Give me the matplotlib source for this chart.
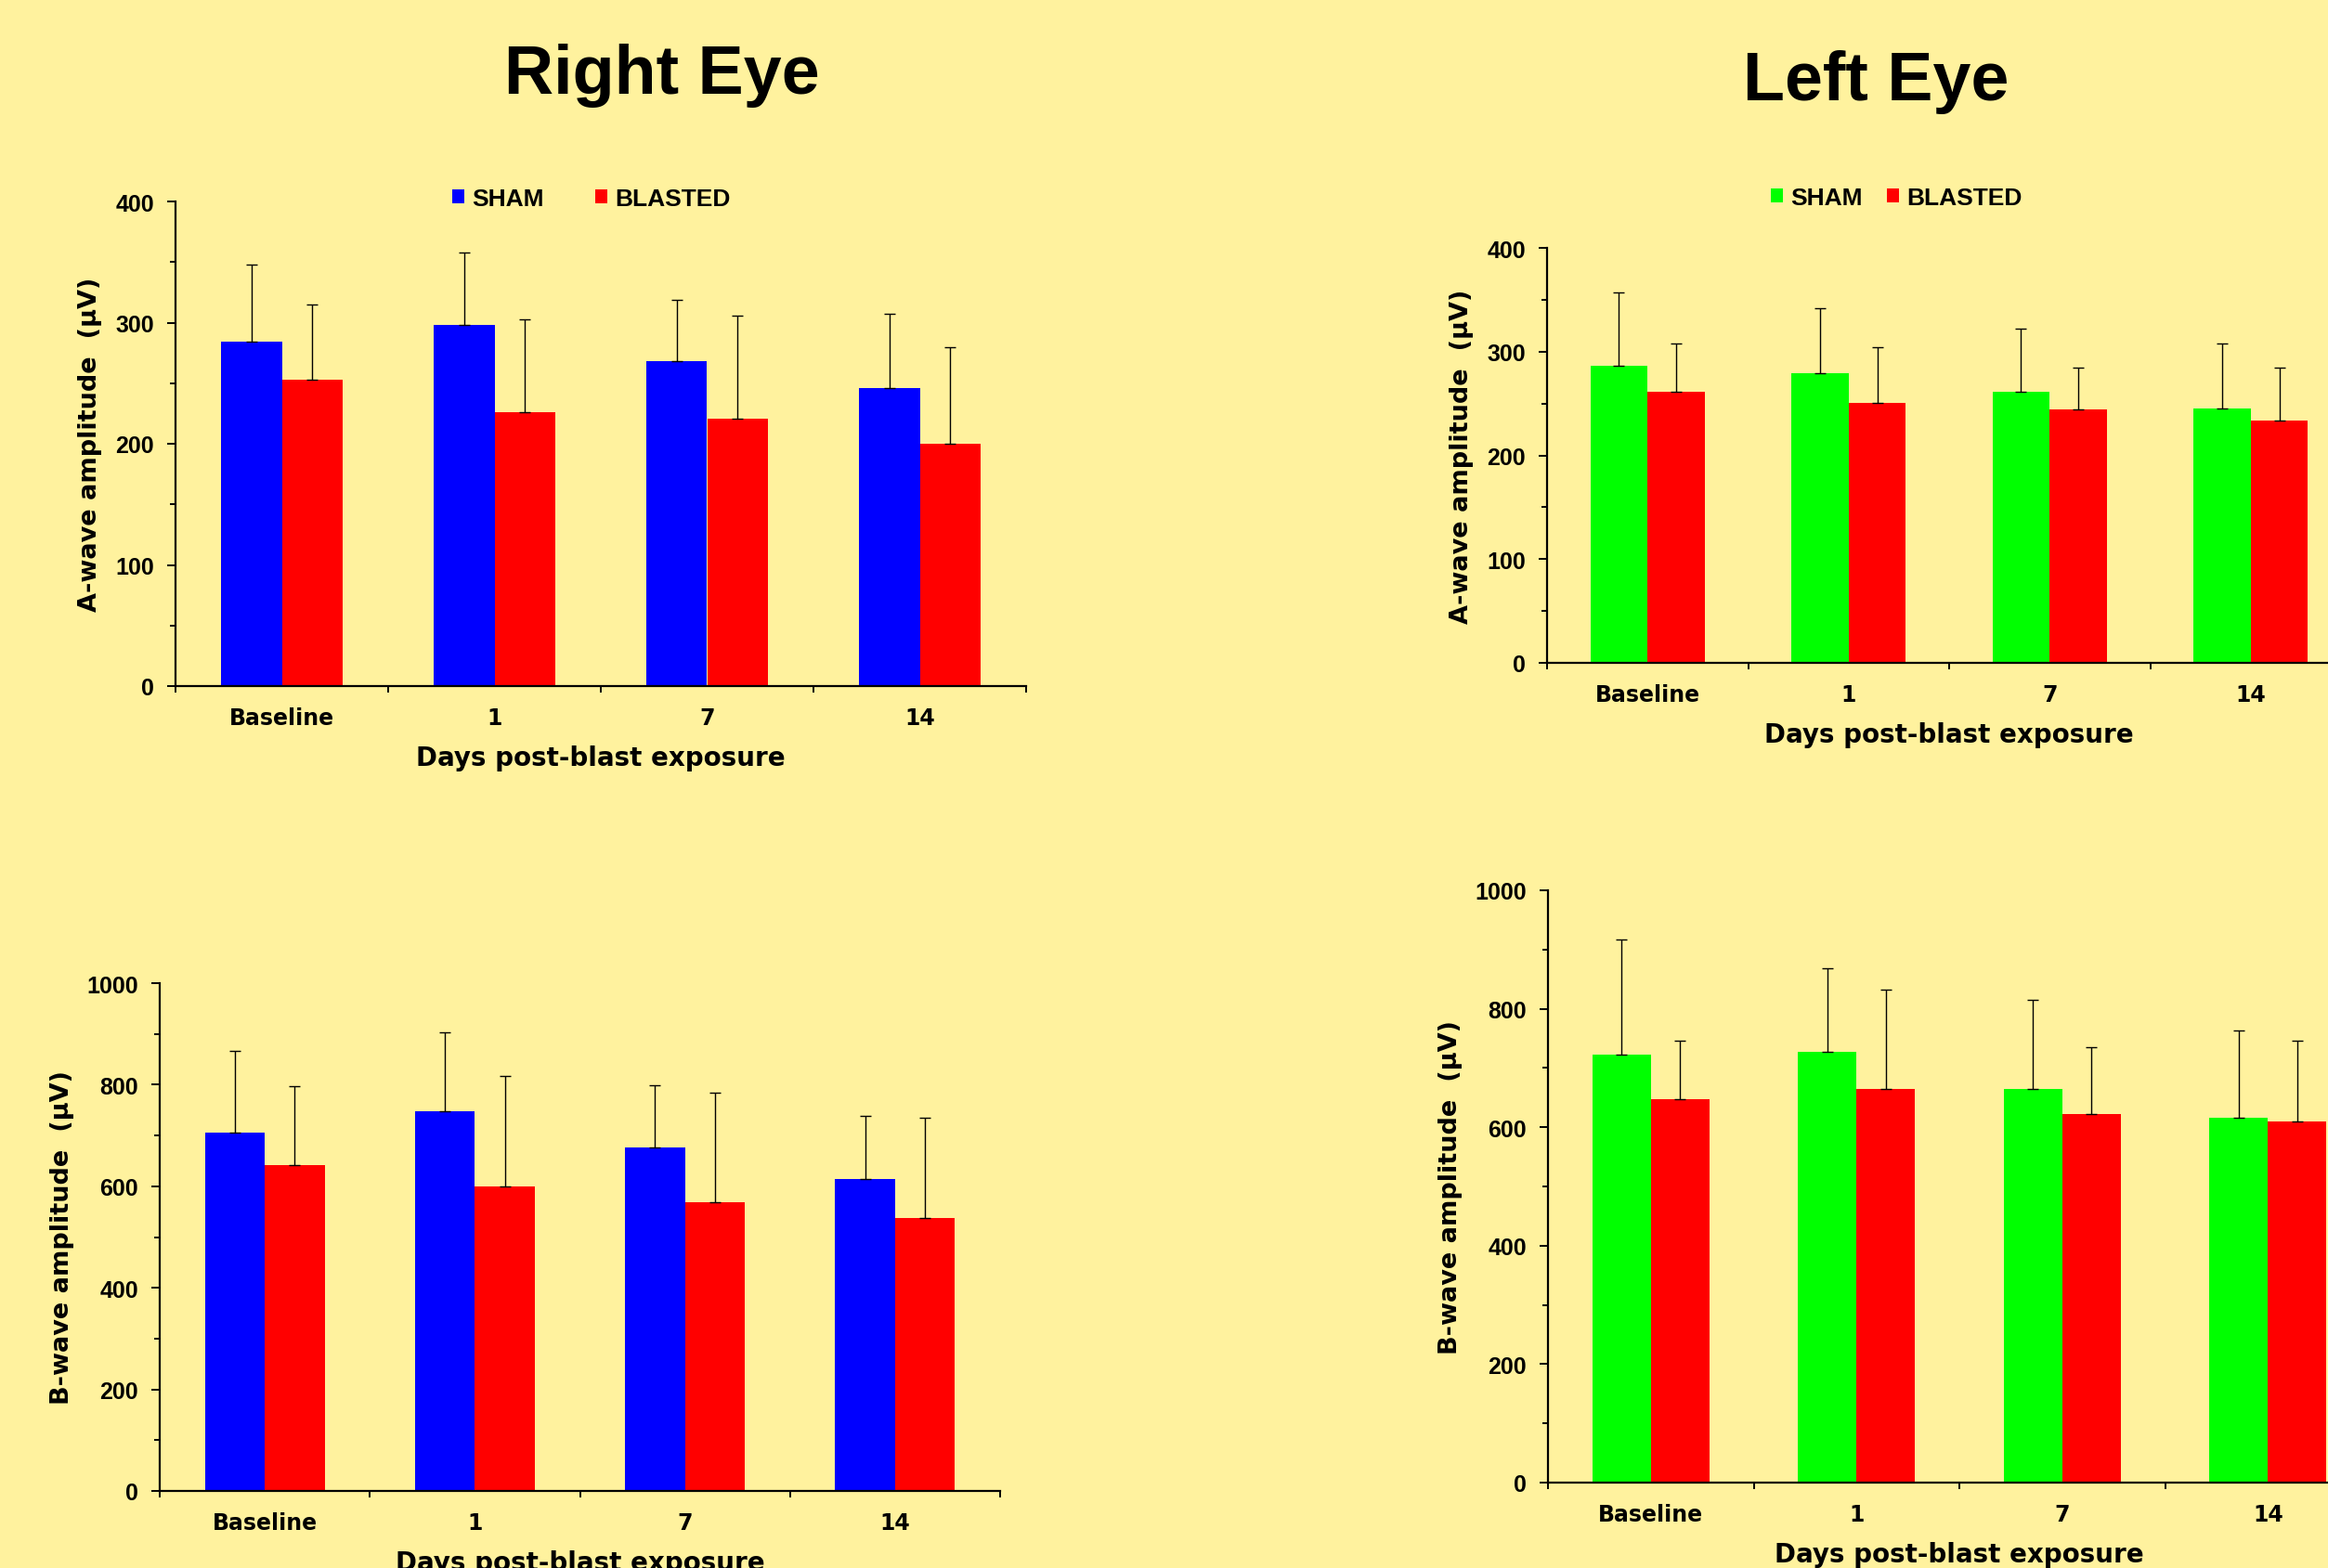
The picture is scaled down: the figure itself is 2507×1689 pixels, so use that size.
import numpy as np
import matplotlib
matplotlib.use("Agg")
from matplotlib import pyplot as plt
from matplotlib.patches import Patch

plt.rcParams['font.family'] = ['Liberation Sans', 'DejaVu Sans']
plt.rcParams['font.weight'] = 'bold'

# data: group means and upper error (SD) per time point
days = ["Baseline", "1", "7", "14"]

a_right_sham = [284, 298, 268, 246]
a_right_sham_sd = [64, 60, 51, 61]
a_right_blast = [253, 226, 221, 200]
a_right_blast_sd = [62, 77, 85, 80]

a_left_sham = [286, 279, 261, 245]
a_left_sham_sd = [71, 63, 61, 63]
a_left_blast = [261, 251, 244, 234]
a_left_blast_sd = [47, 53, 41, 51]

b_right_sham = [706, 747, 676, 615]
b_right_sham_sd = [161, 157, 122, 123]
b_right_blast = [641, 599, 568, 538]
b_right_blast_sd = [156, 219, 216, 197]

b_left_sham = [722, 727, 665, 616]
b_left_sham_sd = [195, 141, 150, 148]
b_left_blast = [647, 665, 622, 609]
b_left_blast_sd = [99, 167, 113, 137]

BG = '#FFF29E'
W, H = 2507, 1690
fig = plt.figure(figsize=(W / 100, H / 100), dpi=100, facecolor=BG)

# wider face for axis text
WIDE = ['DejaVu Sans']


def px_axes(left, right, bottom, top):
    # axes placed in pixel coords (y measured from top of image)
    return fig.add_axes([left / W, 1 - bottom / H, (right - left) / W, (bottom - top) / H])


def panel(ax, sham, sham_sd, blast, blast_sd, sham_col, ymax, major, ylabel):
    x = np.arange(len(days))
    w = 0.285
    ekw = dict(elinewidth=1.0, capsize=4.5, capthick=1.0, ecolor='black')
    ax.bar(x - w / 2, sham, w, color=sham_col,
           yerr=[np.zeros(len(sham)), sham_sd], error_kw=ekw, zorder=2)
    ax.bar(x + w / 2, blast, w, color='#FF0000',
           yerr=[np.zeros(len(blast)), blast_sd], error_kw=ekw, zorder=2)
    ax.set_facecolor(BG)
    ax.set_xlim(-0.5, len(days) - 0.5)
    ax.set_ylim(0, ymax)
    ax.spines['top'].set_visible(False)
    ax.spines['right'].set_visible(False)
    ax.spines['left'].set_linewidth(1.6)
    ax.spines['bottom'].set_linewidth(1.6)
    ax.set_yticks(np.arange(0, ymax + 1, major))
    ax.set_yticks(np.arange(major / 2, ymax, major), minor=True)
    ax.set_xticks(x)
    ax.set_xticklabels(days, family=WIDE, fontsize=17, fontweight='bold')
    ax.set_xticks(np.arange(-0.5, len(days)), minor=True)
    ax.tick_params(axis='y', which='major', length=6.5, width=1.4, labelsize=18, pad=10)
    ax.tick_params(axis='y', which='minor', length=4.5, width=1.4)
    ax.tick_params(axis='x', which='major', length=0, pad=16)
    ax.tick_params(axis='x', which='minor', length=5, width=1.4)
    ax.set_ylabel(ylabel, family=WIDE, fontsize=19.5, fontweight='bold', labelpad=10)
    ax.set_xlabel("Days post-blast exposure", family=WIDE, fontsize=20,
                  fontweight='bold', labelpad=12)


ax1 = px_axes(189, 1105, 740, 218)
panel(ax1, a_right_sham, a_right_sham_sd, a_right_blast, a_right_blast_sd,
      '#0000FF', 400, 100, "A-wave amplitude  (\u00b5V)")

ax2 = px_axes(1666, 1666 + 866, 715, 268)
panel(ax2, a_left_sham, a_left_sham_sd, a_left_blast, a_left_blast_sd,
      '#00FF00', 400, 100, "A-wave amplitude  (\u00b5V)")

ax3 = px_axes(172, 1077, 1607, 1060)
panel(ax3, b_right_sham, b_right_sham_sd, b_right_blast, b_right_blast_sd,
      '#0000FF', 1000, 200, "B-wave amplitude  (\u00b5V)")

ax4 = px_axes(1667, 1667 + 886, 1598, 960)
panel(ax4, b_left_sham, b_left_sham_sd, b_left_blast, b_left_blast_sd,
      '#00FF00', 1000, 200, "B-wave amplitude  (\u00b5V)")

# titles
fig.text(713 / W, 1 - 101 / H, "Right Eye", fontsize=53, fontweight='bold',
         ha='center', va='baseline')
fig.text(2020 / W, 1 - 108 / H, "Left Eye", fontsize=53, fontweight='bold',
         ha='center', va='baseline')


# legends
def legend_at(cx, cy, sham_col, colspace):
    handles = [Patch(facecolor=sham_col, label='SHAM'),
               Patch(facecolor='#FF0000', label='BLASTED')]
    fig.legend(handles=handles, loc='center', bbox_to_anchor=(cx / W, 1 - cy / H),
               ncol=2, frameon=False, fontsize=19, handlelength=0.5,
               handleheight=0.5, handletextpad=0.3, columnspacing=colspace,
               borderpad=0, borderaxespad=0)


legend_at(637, 215, '#0000FF', 2.1)
legend_at(2042, 214, '#00FF00', 1.0)

fig.savefig("out.png", dpi=100, facecolor=BG)
